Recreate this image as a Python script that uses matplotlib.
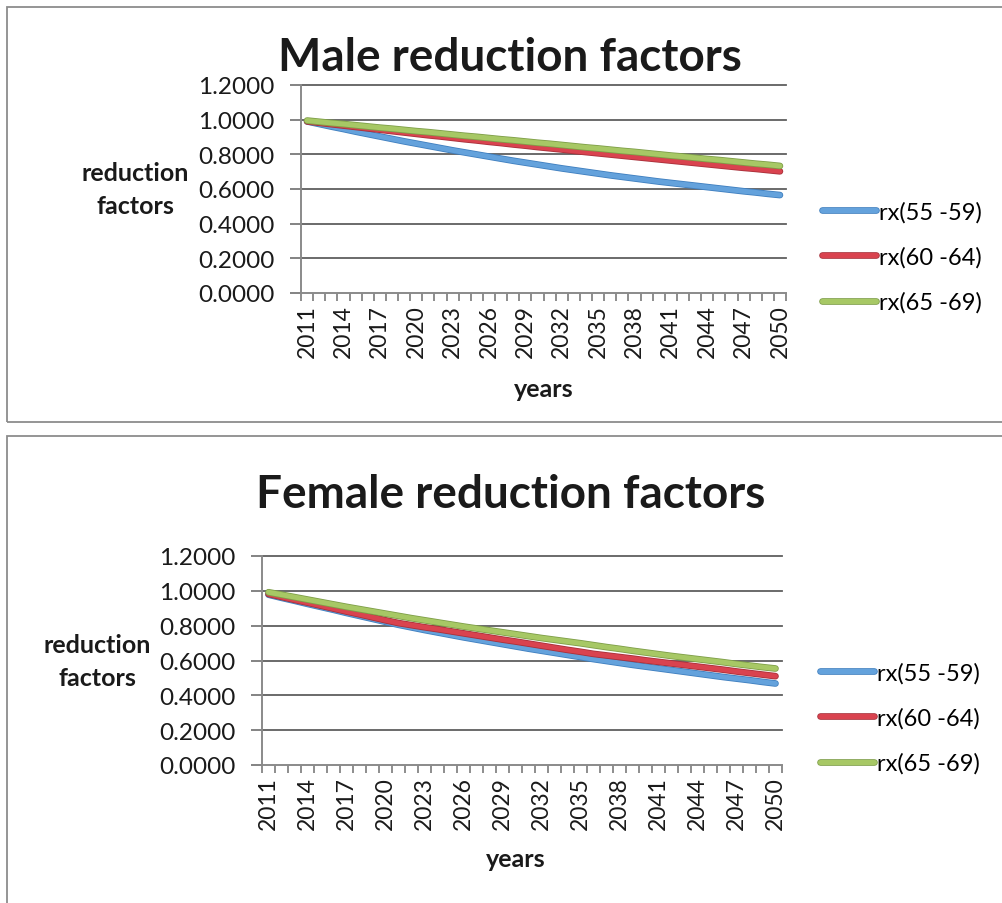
import numpy as np
import matplotlib
matplotlib.use('Agg')
import matplotlib.pyplot as plt
import matplotlib.patheffects as pe
from matplotlib.patches import Rectangle
from matplotlib.ticker import FormatStrFormatter

plt.rcParams['font.family'] = ['Lato', 'DejaVu Sans']

years = list(range(2011, 2051))
labels = ['rx(55 -59)', 'rx(60 -64)', 'rx(65 -69)']

# male reduction factors by age band
male_55_59 = [0.990, 0.975, 0.960, 0.946, 0.931, 0.917, 0.903, 0.889, 0.875, 0.862,
              0.849, 0.836, 0.823, 0.811, 0.799, 0.787, 0.775, 0.763, 0.752, 0.741,
              0.730, 0.719, 0.709, 0.699, 0.689, 0.679, 0.670, 0.661, 0.652, 0.643,
              0.635, 0.627, 0.619, 0.611, 0.603, 0.595, 0.587, 0.580, 0.572, 0.565]
male_60_64 = [0.990, 0.982, 0.974, 0.966, 0.958, 0.950, 0.942, 0.934, 0.926, 0.918,
              0.910, 0.903, 0.895, 0.887, 0.880, 0.872, 0.865, 0.857, 0.850, 0.842,
              0.835, 0.828, 0.820, 0.813, 0.806, 0.799, 0.792, 0.785, 0.778, 0.771,
              0.764, 0.757, 0.750, 0.743, 0.736, 0.729, 0.722, 0.716, 0.709, 0.702]
male_65_69 = [0.995, 0.988, 0.981, 0.975, 0.968, 0.961, 0.954, 0.948, 0.941, 0.934,
              0.928, 0.921, 0.914, 0.907, 0.901, 0.894, 0.887, 0.881, 0.874, 0.867,
              0.861, 0.854, 0.847, 0.840, 0.834, 0.827, 0.820, 0.814, 0.807, 0.800,
              0.793, 0.787, 0.780, 0.773, 0.767, 0.760, 0.753, 0.746, 0.740, 0.733]

# female reduction factors by age band
female_55_59 = [0.978, 0.960, 0.943, 0.925, 0.908, 0.891, 0.873, 0.856, 0.839, 0.822,
                0.805, 0.790, 0.775, 0.761, 0.747, 0.733, 0.720, 0.707, 0.694, 0.681,
                0.668, 0.656, 0.644, 0.632, 0.620, 0.608, 0.597, 0.586, 0.575, 0.565,
                0.555, 0.545, 0.535, 0.525, 0.515, 0.505, 0.496, 0.487, 0.477, 0.468]
female_60_64 = [0.982, 0.965, 0.948, 0.932, 0.915, 0.898, 0.881, 0.865, 0.848, 0.831,
                0.815, 0.803, 0.791, 0.780, 0.768, 0.756, 0.744, 0.732, 0.720, 0.709,
                0.697, 0.685, 0.673, 0.661, 0.650, 0.638, 0.629, 0.620, 0.611, 0.601,
                0.592, 0.583, 0.574, 0.565, 0.556, 0.547, 0.537, 0.528, 0.519, 0.510]
female_65_69 = [0.992, 0.978, 0.964, 0.950, 0.936, 0.922, 0.908, 0.895, 0.882, 0.869,
                0.856, 0.843, 0.831, 0.819, 0.807, 0.795, 0.784, 0.773, 0.762, 0.751,
                0.740, 0.729, 0.719, 0.709, 0.699, 0.688, 0.677, 0.667, 0.656, 0.646,
                0.636, 0.626, 0.617, 0.608, 0.599, 0.590, 0.580, 0.571, 0.562, 0.554]

colors = ['#64A2DC', '#D9434F', '#A7C865']
edges = ['#3F7FBF', '#A8303A', '#7E9E48']
yticks = [0.0, 0.2, 0.4, 0.6, 0.8, 1.0, 1.2]

W, H = 1003, 904
fig = plt.figure(figsize=(W / 100, H / 100), dpi=100)
fig.patch.set_facecolor('white')


def px_axes(left, top, right, bottom):
    return fig.add_axes([left / W, 1 - bottom / H, (right - left) / W, (bottom - top) / H])


def fx(x):
    return x / W


def fy(y):
    return 1 - y / H


def draw_panel(ax, series, title, title_xy, ylab_xy, xlab_xy, leg_xy):
    x = np.arange(len(years))
    for vals, lab, col, edge in zip(series, labels, colors, edges):
        ax.plot(x, vals, color=col, lw=3.6, solid_capstyle='round', label=lab,
                zorder=3, path_effects=[pe.Stroke(linewidth=4.8, foreground=edge),
                                        pe.Normal()])
    ax.set_xlim(-0.5, len(years) - 0.5)
    ax.set_ylim(0, 1.2)

    for v in yticks[1:]:
        ax.axhline(v, color='#5f5f5f', lw=1.3, zorder=1, clip_on=False)

    for s in ['top', 'right']:
        ax.spines[s].set_visible(False)
    for s in ['left', 'bottom']:
        ax.spines[s].set_color('#8a8a8a')
        ax.spines[s].set_linewidth(1.4)

    ax.set_yticks(yticks)
    ax.yaxis.set_major_formatter(FormatStrFormatter('%.4f'))
    ax.tick_params(axis='y', length=8, width=1.3, color='#7a7a7a', pad=11,
                   labelsize=17.5, labelcolor='#1a1a1a')

    ax.set_xticks(x[::3])
    ax.set_xticklabels([str(y) for y in years[::3]], rotation=90)
    ax.set_xticks(np.arange(-0.5, len(years), 1), minor=True)
    ax.tick_params(axis='x', which='major', length=0, pad=8, labelsize=16.5,
                   labelcolor='#1a1a1a')
    ax.tick_params(axis='x', which='minor', length=6, width=1.2, color='#7a7a7a')

    fig.text(fx(title_xy[0]), fy(title_xy[1]), title, ha='center', va='center',
             fontsize=33, fontweight='bold', color='#1a1a1a')
    fig.text(fx(ylab_xy[0]), fy(ylab_xy[1]), 'reduction\nfactors', ha='center',
             va='center', fontsize=18, fontweight='bold', color='#1a1a1a',
             linespacing=1.55)
    fig.text(fx(xlab_xy[0]), fy(xlab_xy[1]), 'years', ha='center', va='center',
             fontsize=18, fontweight='bold', color='#1a1a1a')

    ax.legend(loc='center left', bbox_to_anchor=(fx(leg_xy[0]), fy(leg_xy[1])),
              bbox_transform=fig.transFigure, frameon=False, fontsize=17,
              handlelength=2.3, handletextpad=0.1, labelspacing=1.0,
              borderpad=0, borderaxespad=0)


# chart borders
for (x0, y0, y1) in [(7.5, 7.5, 423), (7.0, 437, 915)]:
    fig.patches.append(Rectangle((fx(x0), fy(y1)), fx(1020 - x0), (y1 - y0) / H,
                                 transform=fig.transFigure, fill=False,
                                 edgecolor='#8c8c8c', lw=1.3))

ax1 = px_axes(301, 86, 786, 294)
draw_panel(ax1, [male_55_59, male_60_64, male_65_69], 'Male reduction factors',
           (510, 58), (135, 190), (544, 390), (822, 258))

ax2 = px_axes(262, 557, 782, 766)
draw_panel(ax2, [female_55_59, female_60_64, female_65_69], 'Female reduction factors',
           (511, 495), (97, 662), (516, 860), (820, 719))

fig.savefig('out.png', dpi=100, facecolor='white')
